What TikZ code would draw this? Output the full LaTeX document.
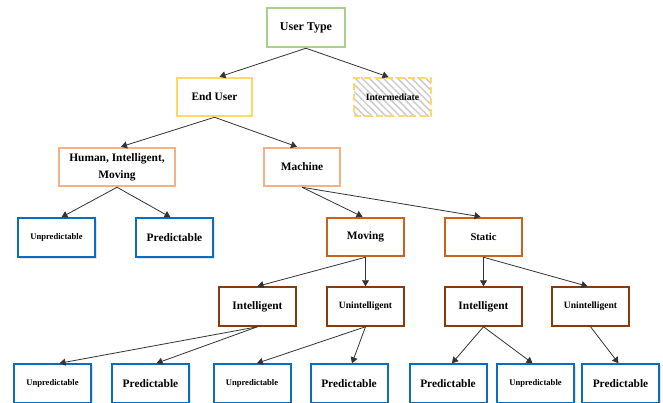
\documentclass[tikz,border=0pt]{standalone}
\usepackage{fontspec}
\setmainfont{Liberation Serif}
\usetikzlibrary{arrows.meta,patterns.meta,shadows,calc}
\definecolor{cgreen}{HTML}{A9D18E}
\definecolor{cyellow}{HTML}{FFD966}
\definecolor{cpeach}{HTML}{F4B183}
\definecolor{cblue}{HTML}{0A6EC0}
\definecolor{corange}{HTML}{C9621A}
\definecolor{cbrown}{HTML}{843C0C}
\definecolor{carrow}{HTML}{333333}
\tikzset{
  box/.style={draw, rectangle, line width=2pt, inner sep=0pt, minimum width=77pt, minimum height=38.5pt, fill=white, align=center, font=\bfseries\fontsize{11.4}{17}\selectfont},
  greenbox/.style={box, draw=cgreen, minimum width=78pt, minimum height=39.5pt, font=\bfseries\fontsize{12}{14}\selectfont},
  yellowbox/.style={box, draw=cyellow},
  peachbox/.style={box, draw=cpeach},
  bluebox/.style={box, draw=cblue, drop shadow={shadow xshift=1.8pt, shadow yshift=-1.8pt, opacity=0.22, fill=gray}},
  orangebox/.style={box, draw=corange},
  brownbox/.style={box, draw=cbrown},
  smallfont/.style={font=\bfseries\fontsize{9.6}{12}\selectfont},
  tinyfont/.style={font=\bfseries\fontsize{8.6}{11}\selectfont},
  conn/.style={draw=carrow, line width=0.8pt, -{Triangle[length=6pt,width=7pt]}}
}
\begin{document}
\begin{tikzpicture}[x=1pt,y=-1pt]
\useasboundingbox (0,0) rectangle (663,402);
% level 0
\node[greenbox] (ut) at (306,27.5) {User Type};
% level 1
\node[yellowbox, minimum width=75pt] (eu) at (214.5,97) {End User};
\node[box, draw=cyellow, dashed, dash pattern=on 7pt off 4pt, pattern={Lines[angle=-45,distance=5pt,line width=1.5pt]}, pattern color=gray!40, smallfont] (im) at (392.5,97) {Intermediate};
% level 2
\node[peachbox, minimum width=116pt] (hu) at (117,167) {Human, Intelligent,\\Moving};
\node[peachbox, minimum width=76pt] (ma) at (302,167) {Machine};
% level 3
\node[bluebox, tinyfont] (u1) at (56.5,237.5) {Unpredictable};
\node[bluebox] (p1) at (174.5,237.5) {Predictable};
\node[orangebox] (mo) at (365.5,237) {Moving};
\node[orangebox, font=\bfseries\fontsize{10.6}{12}\selectfont] (st) at (483.5,237) {Static};
% level 4
\node[brownbox] (im1) at (257.5,306.5) {Intelligent};
\node[brownbox, smallfont] (un1) at (365.5,306.5) {Unintelligent};
\node[brownbox] (im2) at (483.5,306.5) {Intelligent};
\node[brownbox, smallfont] (un2) at (590.5,306.5) {Unintelligent};
% level 5
\node[bluebox, tinyfont] (b1) at (52.5,383.5) {Unpredictable};
\node[bluebox] (b2) at (150.5,383.5) {Predictable};
\node[bluebox, tinyfont] (b3) at (252,383.5) {Unpredictable};
\node[bluebox] (b4) at (349,383.5) {Predictable};
\node[bluebox] (b5) at (448,383.5) {Predictable};
\node[bluebox, tinyfont] (b6) at (535.5,383.5) {Unpredictable};
\node[bluebox] (b7) at (620.5,383.5) {Predictable};
% connectors
\draw[conn] (ut.south) -- ($(eu.north)+(5,0)$);
\draw[conn] (ut.south) -- ($(im.north)+(-4,0)$);
\draw[conn] (eu.south) -- ($(hu.north)+(4,0)$);
\draw[conn] (eu.south) -- ($(ma.north)+(-5,0)$);
\draw[conn] (hu.south) -- ($(u1.north)+(5,0)$);
\draw[conn] (hu.south) -- ($(p1.north)+(-4,0)$);
\draw[conn] (ma.south) -- ($(mo.north)+(-3,0)$);
\draw[conn] (ma.south) -- ($(st.north)+(-3,0)$);
\draw[conn] (mo.south) -- (im1.north);
\draw[conn] (mo.south) -- (un1.north);
\draw[conn] (st.south) -- (im2.north);
\draw[conn] (st.south) -- ($(un2.north)+(-3,0)$);
\draw[conn] (im1.south) -- ($(b1.north)+(7,0)$);
\draw[conn] (im1.south) -- ($(b2.north)+(6,0)$);
\draw[conn] (un1.south) -- ($(b3.north)+(5,0)$);
\draw[conn] (un1.south) -- ($(b4.north)+(3,0)$);
\draw[conn] (im2.south) -- ($(b5.north)+(4,0)$);
\draw[conn] (im2.south) -- ($(b6.north)+(-3,0)$);
\draw[conn] (un2.south) -- ($(b7.north)+(-2,0)$);
\end{tikzpicture}
\end{document}
